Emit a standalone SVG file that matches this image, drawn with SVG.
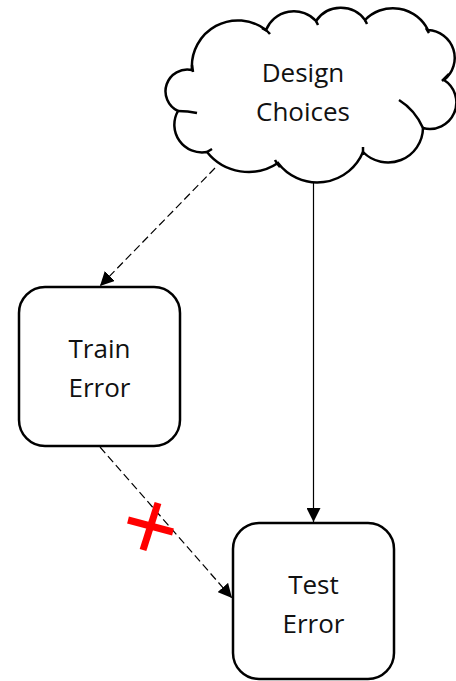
<svg xmlns="http://www.w3.org/2000/svg" width="456" height="681" viewBox="0 0 456 681">
  <style>
    .shape { fill: #ffffff; stroke: #000000; stroke-width: 2.5; }
    .stub { fill: none; stroke: #000000; stroke-width: 2.5; stroke-linecap: butt; }
    .label { font-family: "Open Sans", "Noto Sans", sans-serif; font-size: 26px; fill: #111111; text-anchor: middle; }
    .edge { fill: none; stroke: #000000; stroke-width: 1.2; }
    .dashed { stroke-dasharray: 8 4; }
    .cross { stroke: #ff0000; stroke-width: 7; stroke-linecap: butt; }
  </style>
  <defs>
    <marker id="arrowBig" viewBox="0 0 10 10" refX="10" refY="5" markerWidth="14" markerHeight="14" markerUnits="userSpaceOnUse" orient="auto">
      <path d="M0,0 L10,5 L0,10 Z" fill="#000000"/>
    </marker>
  </defs>

  <!-- connectors -->
  <g id="connectors">
    <line class="edge dashed" x1="215" y1="168" x2="100" y2="286" marker-end="url(#arrowBig)"/>
    <line class="edge" x1="313.5" y1="183" x2="313.5" y2="522" marker-end="url(#arrowBig)"/>
    <line class="edge dashed" x1="100" y1="447" x2="232" y2="598" marker-end="url(#arrowBig)"/>
    <g id="blocked">
      <line class="cross" x1="128" y1="520" x2="173" y2="532"/>
      <line class="cross" x1="158" y1="503" x2="143" y2="550"/>
    </g>
  </g>

  <!-- cloud node -->
  <g id="design-choices">
    <path class="shape" d="M192,70
      A46,46 0 0 1 266,30
      A30,30 0 0 1 316,21
      A30,30 0 0 1 365,20
      A39,39 0 0 1 428,30
      A28,28 0 0 1 444,80
      A26.5,26.5 0 0 1 423,128
      A35,35 0 0 1 363,152
      A49.5,49.5 0 0 1 278,163
      A53,53 0 0 1 207,152
      A27.7,27.7 0 0 1 178,111
      A21.8,21.8 0 0 1 192,70 Z"/>
    <path class="stub" d="M192,65 L193,72"/>
    <path class="stub" d="M262,28 Q267,30 270,34"/>
    <path class="stub" d="M316,21 L318,25"/>
    <path class="stub" d="M365,20 L367,24"/>
    <path class="stub" d="M426,28 L429,33"/>
    <path class="stub" d="M449,74 L442,81"/>
    <path class="stub" d="M399,100 Q415,110 423,128"/>
    <path class="stub" d="M363,147 L363,155"/>
    <path class="stub" d="M275,160 Q277,164 280,167"/>
    <path class="stub" d="M212,149 L207,152"/>
    <path class="stub" d="M178,111 Q188,111 197,113"/>
    <text class="label" x="303" y="82">Design</text>
    <text class="label" x="303" y="121">Choices</text>
  </g>

  <!-- train error node -->
  <g id="train-error">
    <rect class="shape" x="19" y="287" width="161" height="159" rx="26" ry="26"/>
    <text class="label" x="99.5" y="358">Train</text>
    <text class="label" x="99.5" y="397">Error</text>
  </g>

  <!-- test error node -->
  <g id="test-error">
    <rect class="shape" x="233" y="523" width="161" height="156" rx="26" ry="26"/>
    <text class="label" x="313.5" y="594">Test</text>
    <text class="label" x="313.5" y="633">Error</text>
  </g>
</svg>
